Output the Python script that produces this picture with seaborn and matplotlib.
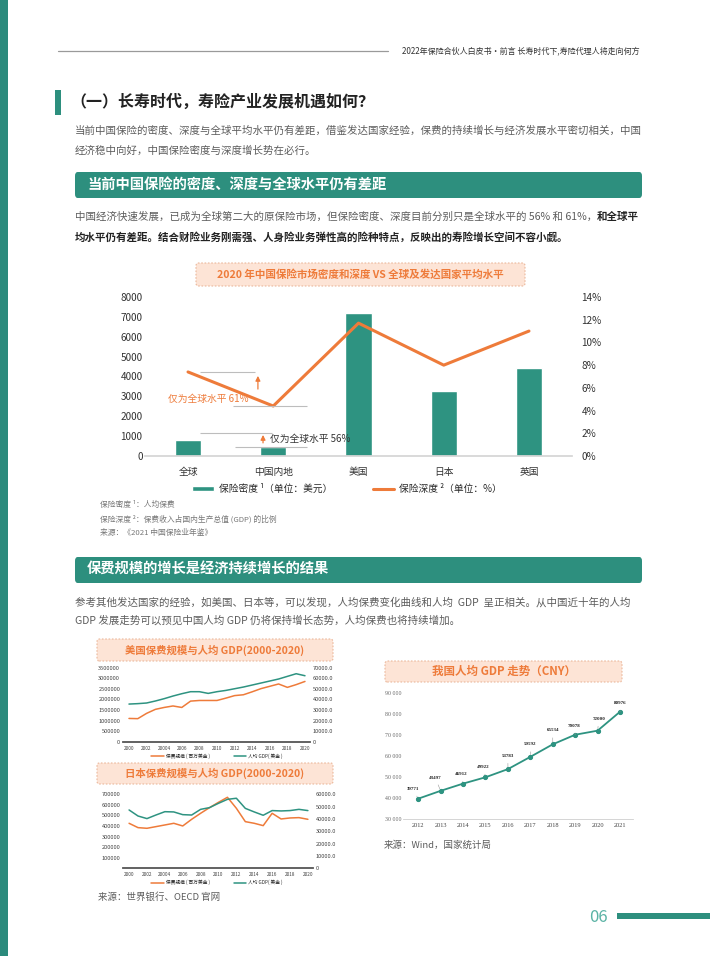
import numpy as np
import matplotlib
matplotlib.use('Agg')
import matplotlib.pyplot as plt
import seaborn as sns
from matplotlib.patches import Rectangle, FancyBboxPatch, Patch
from matplotlib.lines import Line2D
from matplotlib.ticker import FuncFormatter

# ---- data ----
regions = ['全球', '中国内地', '美国', '日本', '英国']
density_usd = [800, 460, 7200, 3250, 4450]
depth_pct = [7.4, 4.4, 11.7, 8.0, 11.0]

years = list(range(2000, 2021))
year_ticks = list(range(2000, 2021, 2))
year_tick_labels = ['2000', '2002', '20004', '2006', '2008', '2010', '2012', '2014', '2016', '2018', '2020']

us_premium = [1100000, 1090000, 1340000, 1530000, 1620000, 1690000, 1620000, 1920000, 1950000, 1950000,
              1950000, 2060000, 2180000, 2220000, 2360000, 2510000, 2620000, 2730000, 2570000, 2700000, 2850000]
us_gdp_pc = [35600, 36000, 36600, 38500, 40700, 43200, 45400, 47300, 47300, 45700,
             47300, 48500, 50100, 51700, 53600, 55500, 57400, 59300, 61800, 64300, 62400]

jp_premium = [425700, 384700, 378400, 394100, 409900, 425700, 400500, 463500, 520300, 573900,
              624300, 671600, 567600, 441400, 425700, 403600, 520300, 466700, 476100, 479300, 463500]
jp_gdp_pc = [47300, 42400, 40300, 43200, 45900, 45700, 43500, 43200, 47800, 49200,
             52700, 55900, 56800, 48600, 45700, 43000, 46800, 46500, 46800, 47800, 46800]

cn_years = list(range(2012, 2022))
cn_gdp_pc = [39771, 43497, 46912, 49922, 53783, 59592, 65534, 70078, 72000, 80976]
cn_label_offsets = [(-4, 7), (-4, 9.5), (-1.5, 7), (-1.5, 7.5), (0, 9.5),
                    (0, 9), (0, 10), (-1, 6.5), (1, 8.5), (0, 6)]

TEAL = '#2e9381'
ORANGE = '#ee7b3a'
GRAY_TXT = '#5c5c5c'
BODY = 7.55
W, H = 710, 956

sns.set_theme(style='white')
plt.rcParams['font.family'] = ['Noto Sans CJK SC', 'DejaVu Sans']
plt.rcParams['axes.unicode_minus'] = False

fig = plt.figure(figsize=(W / 100, H / 100), dpi=100)
fig.patch.set_facecolor('white')
renderer = fig.canvas.get_renderer()


def fx(x):
    return x / W


def fy(y):
    return 1 - y / H


def rect(x0, y0, x1, y1):
    return [fx(x0), fy(y1), (x1 - x0) / W, (y1 - y0) / H]


def add_rect(x0, y0, x1, y1, color, **kw):
    fig.add_artist(Rectangle((fx(x0), fy(y1)), (x1 - x0) / W, (y1 - y0) / H,
                             transform=fig.transFigure, facecolor=color, edgecolor='none', **kw))


def banner(x0, y0, x1, y1, text):
    fig.add_artist(FancyBboxPatch((fx(x0), fy(y1)), (x1 - x0) / W, (y1 - y0) / H,
                                  boxstyle='round,pad=0,rounding_size=0.004',
                                  transform=fig.transFigure, facecolor='#2d8f7e', edgecolor='none'))
    fig.text(fx(x0 + 12), fy((y0 + y1) / 2), text, color='white', fontsize=10.3,
             fontweight='bold', va='center', ha='left')


def title_box(x0, y0, x1, y1, text, size):
    fig.add_artist(FancyBboxPatch((fx(x0), fy(y1)), (x1 - x0) / W, (y1 - y0) / H,
                                  boxstyle='round,pad=0,rounding_size=0.003',
                                  transform=fig.transFigure, facecolor='#fde4d6',
                                  edgecolor='#ebb89c', linestyle=(0, (1.5, 1.5)), linewidth=0.8))
    fig.text(fx((x0 + x1) / 2), fy((y0 + y1) / 2), text, color=ORANGE, fontsize=size,
             fontweight='bold', va='center', ha='center')


def rich(x, y, parts, size=BODY):
    for s, weight, color in parts:
        t = fig.text(fx(x), fy(y), s, fontsize=size, fontweight=weight, color=color,
                     va='center', ha='left')
        x += t.get_window_extent(renderer=renderer).width


# ---- page furniture ----
add_rect(0, 0, 8, H, '#2b8a7c')
fig.add_artist(Line2D([fx(58), fx(388)], [fy(51), fy(51)], transform=fig.transFigure,
                      color='#9a9a9a', lw=0.9))
fig.text(fx(640), fy(51), '2022年保险合伙人白皮书·前言 长寿时代下,寿险代理人将走向何方',
         fontsize=5.8, color='#333333', ha='right', va='center')

add_rect(55, 90, 61, 115, '#2d8f7e')
fig.text(fx(70), fy(102), '（一）长寿时代，寿险产业发展机遇如何？', fontsize=11.5,
         fontweight='bold', color='#222222', va='center', ha='left')
rich(75, 131, [('当前中国保险的密度、深度与全球平均水平仍有差距，借鉴发达国家经验，保费的持续增长与经济发展水平密切相关，中国',
                'normal', GRAY_TXT)])
rich(75, 151, [('经济稳中向好，中国保险密度与深度增长势在必行。', 'normal', GRAY_TXT)])

banner(75, 172, 642, 198, '当前中国保险的密度、深度与全球水平仍有差距')
rich(75, 217, [('中国经济快速发展，已成为全球第二大的原保险市场，但保险密度、深度目前分别只是全球水平的 56% 和 61%，',
                'normal', GRAY_TXT), ('和全球平', 'bold', '#222222')])
rich(75, 237, [('均水平仍有差距。结合财险业务刚需强、人身险业务弹性高的险种特点，反映出的寿险增长空间不容小觑。',
                'bold', '#222222')])

# ---- main chart ----
title_box(196, 263, 525, 286, '2020 年中国保险市场密度和深度 VS 全球及发达国家平均水平', 7.6)
ax = fig.add_axes(rect(145.4, 297, 571.6, 456))
xpos = np.arange(len(regions))
sns.barplot(x=xpos, y=density_usd, color=TEAL, saturation=1, width=0.31, ax=ax, native_scale=True)
ax.set_xlim(-0.5, len(regions) - 0.5)
ax.set_ylim(0, 8000)
ax.set_yticks(range(0, 8001, 1000))
ax.set_xticks(xpos)
ax.set_xticklabels(regions)
ax.tick_params(axis='y', labelsize=7.2, pad=2, colors='#333333', length=0)
ax.tick_params(axis='x', labelsize=7, pad=8, colors='#333333', length=0)
for s in ['top', 'right', 'left']:
    ax.spines[s].set_visible(False)
ax.spines['bottom'].set_color('#d5d5d5')
ax.set_xlabel('')
ax.set_ylabel('')

ax2 = ax.twinx()
sns.lineplot(x=xpos, y=depth_pct, color=ORANGE, lw=2.2, ax=ax2)
ax2.set_ylim(0, 14)
ax2.set_yticks(range(0, 15, 2))
ax2.yaxis.set_major_formatter(FuncFormatter(lambda v, p: f'{v:.0f}%'))
ax2.tick_params(axis='y', labelsize=7.2, pad=7, colors='#333333', length=0)
for s in ax2.spines.values():
    s.set_visible(False)
ax2.set_ylabel('')

# gap annotations
ax2.hlines(depth_pct[0], 0.14, 0.79, color='#bdbdbd', lw=0.8)
ax2.hlines(depth_pct[1], 0.53, 1.40, color='#bdbdbd', lw=0.8)
ax2.annotate('', xy=(0.82, depth_pct[0] - 0.1), xytext=(0.82, depth_pct[1] + 1.25),
             arrowprops=dict(arrowstyle='-|>', color=ORANGE, lw=0.9, mutation_scale=7))
ax2.text(-0.23, 5.0, '仅为全球水平 61%', color=ORANGE, fontsize=7, va='center', ha='left')
ax.hlines(density_usd[0] + 370, 0.14, 0.99, color='#bdbdbd', lw=0.8)
ax.hlines(density_usd[1] - 20, 0.55, 1.40, color='#bdbdbd', lw=0.8)
ax.annotate('', xy=(0.88, density_usd[0] + 400), xytext=(0.88, density_usd[1] + 60),
            arrowprops=dict(arrowstyle='-|>', color=ORANGE, lw=0.9, mutation_scale=7))
ax.text(0.96, 855, '仅为全球水平 56%', color='#333333', fontsize=7, va='center', ha='left')

fig.legend([Patch(facecolor=TEAL), Line2D([], [], color=ORANGE, lw=2.2)],
           ['保险密度 ¹（单位：美元）', '保险深度 ²（单位：%）'],
           loc='center', bbox_to_anchor=(fx(347), fy(489)), ncol=2, frameon=False,
           fontsize=7, handlelength=2.2, handleheight=0.5, columnspacing=4.2, handletextpad=0.5)

fig.text(fx(100), fy(505), '保险密度 ¹：人均保费', fontsize=5.6, color='#777777', va='center')
fig.text(fx(100), fy(519), '保险深度 ²：保费收入占国内生产总值 (GDP) 的比例', fontsize=5.6, color='#777777', va='center')
fig.text(fx(100), fy(533), '来源：《2021 中国保险业年鉴》', fontsize=5.6, color='#777777', va='center')

# ---- section 2 ----
banner(75, 557, 642, 583, '保费规模的增长是经济持续增长的结果')
rich(75, 602, [('参考其他发达国家的经验，如美国、日本等，可以发现，人均保费变化曲线和人均  GDP  呈正相关。从中国近十年的人均',
                'normal', GRAY_TXT)])
rich(75, 621, [('GDP 发展走势可以预见中国人均 GDP 仍将保持增长态势，人均保费也将持续增加。', 'normal', GRAY_TXT)])


def dual_chart(box, premium, gdp, left_max, left_ticks, right_max, right_ticks, legend_y):
    a = fig.add_axes(rect(*box))
    sns.lineplot(x=years, y=premium, color=ORANGE, lw=1.1, ax=a)
    a.set_xlim(1999.32, 2020.57)
    a.set_ylim(0, left_max)
    a.set_yticks(left_ticks)
    a.yaxis.set_major_formatter(FuncFormatter(lambda v, p: f'{v:.0f}'))
    a.set_xticks(year_ticks)
    a.set_xticklabels(year_tick_labels)
    a.tick_params(axis='y', labelsize=4.1, pad=2, colors='#444444', length=0)
    a.tick_params(axis='x', labelsize=3.4, pad=3, colors='#444444', length=0)
    for s in ['top', 'right', 'left']:
        a.spines[s].set_visible(False)
    a.spines['bottom'].set_color('#555555')
    a.spines['bottom'].set_linewidth(1.3)
    a.set_ylabel('')
    b = a.twinx()
    sns.lineplot(x=years, y=gdp, color=TEAL, lw=1.1, ax=b)
    b.set_ylim(0, right_max)
    b.set_yticks(right_ticks)
    b.yaxis.set_major_formatter(FuncFormatter(lambda v, p: '0' if v == 0 else f'{v:.1f}'))
    b.tick_params(axis='y', labelsize=4.1, pad=2, colors='#444444', length=0)
    for s in b.spines.values():
        s.set_visible(False)
    b.set_ylabel('')
    fig.legend([Line2D([], [], color=ORANGE, lw=1.1), Line2D([], [], color=TEAL, lw=1.1)],
               ['保费规模 ( 百万美金 )', '人均 GDP( 美金 )'], loc='center',
               bbox_to_anchor=(fx(217), fy(legend_y)), ncol=2, frameon=False, fontsize=3.4,
               handlelength=2.6, handletextpad=0.5, columnspacing=5)


title_box(97, 639, 333, 661, '美国保费规模与人均 GDP(2000-2020)', 7.5)
dual_chart((123, 667.7, 310, 741.7), us_premium, us_gdp_pc, 3500000, range(0, 3500001, 500000),
           70000, range(0, 70001, 10000), 756)

title_box(97, 763, 333, 784, '日本保费规模与人均 GDP(2000-2020)', 7.5)
dual_chart((123, 794.3, 313, 868.3), jp_premium, jp_gdp_pc, 700000, range(100000, 700001, 100000),
           60000, range(0, 60001, 10000), 882.7)
fig.text(fx(98), fy(897), '来源：世界银行、OECD 官网', fontsize=6.8, color=GRAY_TXT, va='center')

# ---- China GDP per capita ----
title_box(385, 661, 622, 682, '我国人均 GDP 走势（CNY）', 8.3)
ac = fig.add_axes(rect(403, 692.7, 633, 819.3))
sns.lineplot(x=cn_years, y=cn_gdp_pc, color=TEAL, lw=1.3, marker='o', markersize=3,
             markeredgecolor=TEAL, ax=ac)
ac.set_xlim(2011.32, 2021.58)
ac.set_ylim(30000, 90000)
ac.set_yticks(range(30000, 90001, 10000))
ac.yaxis.set_major_formatter(FuncFormatter(lambda v, p: f'{int(v) // 1000} 000'))
ac.set_xticks(cn_years)
for lab in ac.get_xticklabels() + ac.get_yticklabels():
    lab.set_family('Liberation Serif')
ac.tick_params(axis='x', labelsize=4.6, pad=3, colors='#444444', length=0)
ac.tick_params(axis='y', labelsize=4.2, pad=1, colors='#666666', length=0)
for s in ['top', 'right', 'left']:
    ac.spines[s].set_visible(False)
ac.spines['bottom'].set_color('#cfcfcf')
ac.spines['bottom'].set_linewidth(0.6)
ac.set_ylabel('')
for yr, v, off in zip(cn_years, cn_gdp_pc, cn_label_offsets):
    ac.annotate(str(v), xy=(yr, v), xytext=off, textcoords='offset points', fontsize=3.6,
                fontweight='bold', color='#222222', ha='center', va='center', family='Liberation Serif',
                arrowprops=dict(arrowstyle='-', color='#9a9a9a', lw=0.4, shrinkA=1.5, shrinkB=1.5))
fig.text(fx(384), fy(845), '来源：Wind，国家统计局', fontsize=6.8, color=GRAY_TXT, va='center')

# ---- footer ----
fig.text(fx(598), fy(917), '06', fontsize=12, color='#5bb3a5', ha='center', va='center')
add_rect(617, 913, 710, 919, '#2d8f7e')

fig.savefig('out.png', dpi=100, facecolor='white')
